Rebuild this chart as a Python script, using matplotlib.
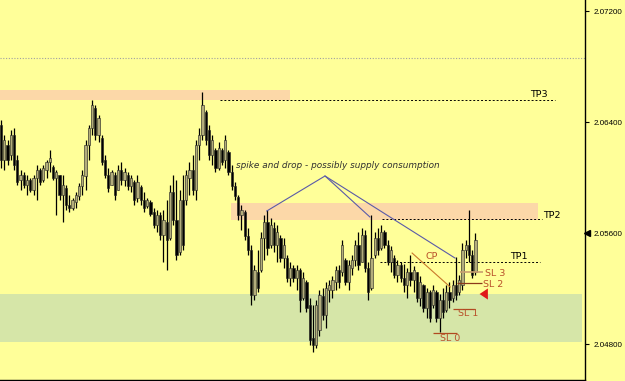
import matplotlib
matplotlib.use("Agg")
import matplotlib.pyplot as plt
from matplotlib.patches import Rectangle

# ---- OHLC data (price) ----
high = [2.06416, 2.06308, 2.06272, 2.06344, 2.06358, 2.06164, 2.06056, 2.06042, 2.06020, 2.05998,
        2.06020, 2.06092, 2.06070, 2.06092, 2.06128, 2.06200, 2.06092, 2.06056, 2.06020, 2.06020,
        2.05948, 2.05876, 2.05854, 2.05898, 2.05962, 2.06056, 2.06272, 2.06380, 2.06560, 2.06524,
        2.06452, 2.06308, 2.06164, 2.06070, 2.06056, 2.06042, 2.06092, 2.06114, 2.06070, 2.06042,
        2.06020, 2.05984, 2.06020, 2.05948, 2.05898, 2.05854, 2.05840, 2.05782, 2.05768, 2.05754,
        2.05768, 2.05840, 2.05948, 2.06020, 2.05984, 2.05912, 2.06020, 2.06056, 2.06114, 2.06164,
        2.06272, 2.06358, 2.06618, 2.06488, 2.06380, 2.06308, 2.06214, 2.06258, 2.06214, 2.06308,
        2.06200, 2.06092, 2.05970, 2.05876, 2.05804, 2.05768, 2.05638, 2.05516, 2.05372, 2.05480,
        2.05610, 2.05732, 2.05768, 2.05710, 2.05682, 2.05660, 2.05588, 2.05566, 2.05444, 2.05394,
        2.05372, 2.05372, 2.05350, 2.05322, 2.05264, 2.05134, 2.05084, 2.05120, 2.05192, 2.05206,
        2.05250, 2.05264, 2.05293, 2.05365, 2.05372, 2.05552, 2.05422, 2.05408, 2.05444, 2.05552,
        2.05610, 2.05638, 2.05624, 2.05394, 2.05732, 2.05610, 2.05638, 2.05660, 2.05624, 2.05552,
        2.05509, 2.05444, 2.05408, 2.05394, 2.05379, 2.05350, 2.05444, 2.05365, 2.05322, 2.05293,
        2.05235, 2.05206, 2.05192, 2.05228, 2.05192, 2.05163, 2.05206, 2.05228, 2.05250, 2.05264,
        2.05430, 2.05300, 2.05530, 2.05552, 2.05768, 2.05480, 2.05602]
low = [2.06070, 2.06056, 2.06092, 2.06128, 2.06056, 2.05948, 2.05912, 2.05926, 2.05876, 2.05898,
       2.05876, 2.05840, 2.05948, 2.05970, 2.05998, 2.06042, 2.05984, 2.05732, 2.05840, 2.05682,
       2.05768, 2.05754, 2.05768, 2.05782, 2.05840, 2.05876, 2.05912, 2.06128, 2.06308, 2.06272,
       2.06258, 2.06092, 2.05998, 2.05898, 2.05948, 2.05840, 2.05912, 2.05948, 2.05941, 2.05912,
       2.05898, 2.05804, 2.05826, 2.05804, 2.05754, 2.05782, 2.05725, 2.05638, 2.05610, 2.05552,
       2.05394, 2.05336, 2.05552, 2.05660, 2.05408, 2.05444, 2.05480, 2.05804, 2.05876, 2.05876,
       2.05840, 2.06128, 2.06272, 2.06236, 2.06128, 2.06092, 2.06042, 2.06056, 2.06092, 2.06070,
       2.06020, 2.05912, 2.05840, 2.05696, 2.05624, 2.05552, 2.05444, 2.05084, 2.05120, 2.05178,
       2.05322, 2.05408, 2.05444, 2.05494, 2.05466, 2.05394, 2.05394, 2.05350, 2.05250, 2.05221,
       2.05250, 2.05192, 2.05034, 2.05120, 2.05034, 2.04796, 2.04746, 2.04774, 2.04861, 2.04976,
       2.04918, 2.05106, 2.05134, 2.05192, 2.05206, 2.05293, 2.05228, 2.05192, 2.05300, 2.05365,
       2.05336, 2.05394, 2.05322, 2.05120, 2.05192, 2.05422, 2.05444, 2.05480, 2.05494, 2.05372,
       2.05322, 2.05278, 2.05250, 2.05250, 2.05178, 2.05134, 2.05221, 2.05178, 2.05106, 2.05077,
       2.05034, 2.04990, 2.04962, 2.05062, 2.04962, 2.04890, 2.04990, 2.05034, 2.05062, 2.05106,
       2.05120, 2.05156, 2.05192, 2.05422, 2.05394, 2.05278, 2.05300]
open_ = [2.06380, 2.06128, 2.06236, 2.06164, 2.06308, 2.06128, 2.05984, 2.06020, 2.05948, 2.05984,
         2.05912, 2.05998, 2.06056, 2.05984, 2.06056, 2.06114, 2.06078, 2.05998, 2.06020, 2.05876,
         2.05926, 2.05804, 2.05782, 2.05826, 2.05869, 2.05941, 2.06013, 2.06236, 2.06358, 2.06502,
         2.06308, 2.06286, 2.06128, 2.06020, 2.05948, 2.06020, 2.05912, 2.06056, 2.05984, 2.06020,
         2.05941, 2.05970, 2.05854, 2.05934, 2.05840, 2.05797, 2.05826, 2.05754, 2.05660, 2.05732,
         2.05588, 2.05682, 2.05566, 2.05898, 2.05696, 2.05466, 2.05840, 2.05840, 2.05998, 2.06056,
         2.05912, 2.06236, 2.06308, 2.06474, 2.06344, 2.06164, 2.06200, 2.06070, 2.06200, 2.06128,
         2.06186, 2.06042, 2.05941, 2.05862, 2.05732, 2.05754, 2.05581, 2.05480, 2.05156, 2.05322,
         2.05336, 2.05566, 2.05682, 2.05516, 2.05638, 2.05516, 2.05566, 2.05422, 2.05422, 2.05278,
         2.05350, 2.05278, 2.05336, 2.05134, 2.05250, 2.05084, 2.04846, 2.04796, 2.04904, 2.05149,
         2.05012, 2.05192, 2.05192, 2.05250, 2.05336, 2.05322, 2.05408, 2.05250, 2.05350, 2.05408,
         2.05516, 2.05394, 2.05588, 2.05350, 2.05206, 2.05444, 2.05566, 2.05494, 2.05610, 2.05516,
         2.05394, 2.05422, 2.05300, 2.05372, 2.05278, 2.05228, 2.05322, 2.05264, 2.05322, 2.05134,
         2.05228, 2.05062, 2.05178, 2.05084, 2.05178, 2.04990, 2.05120, 2.05048, 2.05178, 2.05134,
         2.05228, 2.05178, 2.05228, 2.05480, 2.05516, 2.05444, 2.05322]
close = [2.06128, 2.06272, 2.06128, 2.06308, 2.06092, 2.05970, 2.06020, 2.05948, 2.05984, 2.05912,
         2.05998, 2.06056, 2.05970, 2.06070, 2.06114, 2.06142, 2.05998, 2.06042, 2.05876, 2.05948,
         2.05804, 2.05782, 2.05840, 2.05876, 2.05941, 2.06020, 2.06236, 2.06358, 2.06524, 2.06308,
         2.06430, 2.06114, 2.06020, 2.05926, 2.06042, 2.05876, 2.06056, 2.05984, 2.06042, 2.05941,
         2.05998, 2.05840, 2.05970, 2.05840, 2.05782, 2.05840, 2.05739, 2.05660, 2.05732, 2.05588,
         2.05696, 2.05552, 2.05898, 2.05696, 2.05444, 2.05840, 2.05516, 2.06020, 2.06056, 2.05912,
         2.06236, 2.06308, 2.06524, 2.06272, 2.06164, 2.06272, 2.06070, 2.06214, 2.06114, 2.06272,
         2.06042, 2.05941, 2.05869, 2.05732, 2.05768, 2.05581, 2.05480, 2.05156, 2.05336, 2.05206,
         2.05566, 2.05682, 2.05494, 2.05660, 2.05516, 2.05610, 2.05422, 2.05516, 2.05278, 2.05350,
         2.05278, 2.05336, 2.05120, 2.05278, 2.05062, 2.04832, 2.04796, 2.05084, 2.05156, 2.05012,
         2.05206, 2.05228, 2.05264, 2.05336, 2.05250, 2.05516, 2.05250, 2.05372, 2.05408, 2.05516,
         2.05372, 2.05588, 2.05350, 2.05178, 2.05422, 2.05566, 2.05480, 2.05610, 2.05516, 2.05394,
         2.05480, 2.05300, 2.05372, 2.05278, 2.05228, 2.05322, 2.05264, 2.05336, 2.05134, 2.05250,
         2.05062, 2.05178, 2.04990, 2.05192, 2.04990, 2.05120, 2.05034, 2.05178, 2.05120, 2.05228,
         2.05156, 2.05264, 2.05480, 2.05516, 2.05444, 2.05300, 2.05552]

price_ticks = [2.07200, 2.06400, 2.05600, 2.04800]
tick_labels = ["2.07200", "2.06400", "2.05600", "2.04800"]

BG = "#ffff99"
BULL = "#b3ad7c"
BEAR = "#000000"

fig = plt.figure(figsize=(6.25, 3.81), dpi=100, facecolor=BG)
ax = fig.add_axes([0.0, 1.0 / 381, 585 / 625, 380 / 381])
ax.set_facecolor(BG)
ax.set_xlim(-0.31, 179.7)
ax.set_ylim(2.04544, 2.0728)

# zones
ax.add_patch(Rectangle((-0.31, 2.0656), 89.2, 0.00072, facecolor="#fcd8a8", edgecolor="none", zorder=1))
ax.add_patch(Rectangle((70.8, 2.05696), 94.4, 0.00122, facecolor="#fcd8a8", edgecolor="none", zorder=1))
ax.add_patch(Rectangle((-0.31, 2.04818), 179.1, 0.00342, facecolor="#d6e6a8", edgecolor="none", zorder=1))

# horizontal levels
ax.axhline(2.06862, color="#a0a0a0", lw=0.8, ls=(0, (1, 1.5)), zorder=2)
ax.hlines(2.0656, 67.4, 170.5, color="black", lw=0.7, ls=(0, (2, 2)), zorder=2)
ax.hlines(2.05703, 117.2, 166.5, color="black", lw=0.7, ls=(0, (2, 2)), zorder=2)
ax.hlines(2.05394, 116.6, 165.8, color="black", lw=0.7, ls=(0, (2, 2)), zorder=2)

# candles
x = list(range(len(close)))
for i in x:
    o, c, h, l = open_[i], close[i], high[i], low[i]
    ax.vlines(i, l, h, color="black", lw=0.9, zorder=3)
    bull = c >= o
    ax.bar(i, abs(c - o) if abs(c - o) > 0 else 0.00003, bottom=min(o, c), width=0.72,
           color=BULL if bull else BEAR, edgecolor="#202020", linewidth=0.4, zorder=4)

# blue trend lines
blue = "#5a5aa8"
ax.plot([81.8, 99.7, 113.5], [2.05761, 2.06013, 2.05718], color=blue, lw=0.8, zorder=5)
ax.plot([99.7, 139.7], [2.06013, 2.05422], color=blue, lw=0.8, zorder=5)

# CP line
ax.plot([126.5, 138.2], [2.05458, 2.05214], color="#c8782c", lw=0.8, zorder=5)

# SL lines
ax.hlines(2.05322, 141.2, 148.3, color="#c8a070", lw=1.2, zorder=5)
ax.hlines(2.05242, 140.3, 148.0, color="#8b3a1a", lw=0.9, zorder=5)
ax.hlines(2.05055, 139.1, 145.8, color="#b04a20", lw=0.9, zorder=5)
ax.hlines(2.04882, 132.9, 140.3, color="#b04a20", lw=0.9, zorder=5)

sl_col = "#b8502a"
fs = 6.8
ax.text(130.5, 2.0543, "CP", color=sl_col, fontsize=fs, va="center", ha="left", zorder=6)
ax.text(148.9, 2.05311, "SL 3", color=sl_col, fontsize=fs, va="center", ha="left", zorder=6)
ax.text(148.3, 2.05232, "SL 2", color=sl_col, fontsize=fs, va="center", ha="left", zorder=6)
ax.text(140.6, 2.0502, "SL 1", color=sl_col, fontsize=fs, va="center", ha="left", zorder=6)
ax.text(135.1, 2.04843, "SL 0", color=sl_col, fontsize=fs, va="center", ha="left", zorder=6)

ax.text(162.8, 2.06598, "TP3", color="black", fontsize=fs, va="center", ha="left", zorder=6)
ax.text(166.8, 2.05725, "TP2", color="black", fontsize=fs, va="center", ha="left", zorder=6)
ax.text(156.6, 2.0543, "TP1", color="black", fontsize=fs, va="center", ha="left", zorder=6)

ax.text(72.3, 2.06085, "spike and drop - possibly supply consumption", color="#303030",
        fontsize=6.4, style="italic", va="center", ha="left", zorder=6)

# red arrow
ax.annotate("", xy=(146.4, 2.05163), xytext=(150.0, 2.05163),
            arrowprops=dict(arrowstyle="simple,head_length=0.6,head_width=0.8,tail_width=0.4",
                            color="#e01818", lw=0), zorder=6)

# axes styling
for s in ["top", "left"]:
    ax.spines[s].set_visible(False)
ax.spines["right"].set_color("black")
ax.spines["bottom"].set_color("black")
ax.spines["right"].set_linewidth(1.0)
ax.spines["bottom"].set_linewidth(1.0)
ax.set_xticks([])
ax.yaxis.tick_right()
ax.set_yticks(price_ticks)
ax.set_yticklabels(tick_labels, fontfamily="Liberation Sans")
ax.tick_params(axis="y", direction="out", length=3, width=0.8, pad=3, labelsize=5.8,
               colors="black")

# current price marker on axis
ax.plot([1.003], [2.0560], marker="<", color="black", markersize=4,
        transform=ax.get_yaxis_transform(), clip_on=False, zorder=7)

fig.savefig("out.png", dpi=100, facecolor=BG)
